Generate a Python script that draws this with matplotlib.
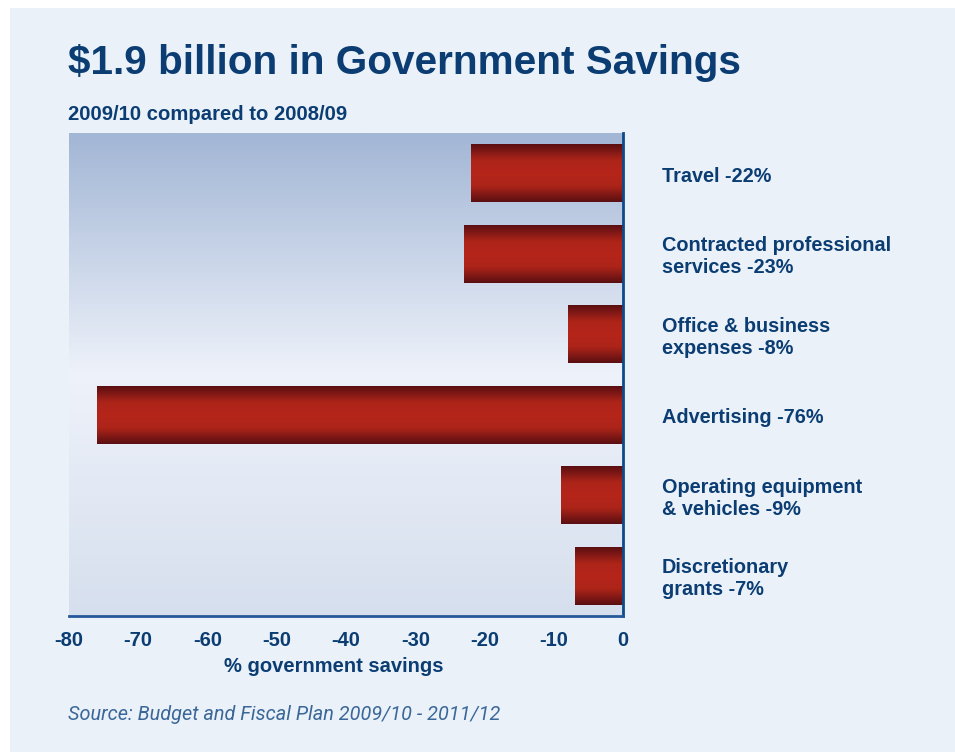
import numpy as np
import matplotlib
matplotlib.use("Agg")
from matplotlib import pyplot as plt
from matplotlib.colors import LinearSegmentedColormap
from matplotlib.patches import Rectangle
from matplotlib.transforms import ScaledTranslation

categories = [
    "Travel -22%",
    "Contracted professional\nservices -23%",
    "Office & business\nexpenses -8%",
    "Advertising -76%",
    "Operating equipment\n& vehicles -9%",
    "Discretionary\ngrants -7%",
]
savings = [-22, -23, -8, -76, -9, -7]
ticks = [-80, -70, -60, -50, -40, -30, -20, -10, 0]

navy = "#0b3d73"
panel = "#eaf1f9"

plt.rcParams["font.family"] = ["Liberation Sans", "DejaVu Sans"]

fig = plt.figure(figsize=(9.55, 7.52), dpi=100)
fig.patch.set_facecolor("white")
# light panel behind everything, leaving a thin white strip top and left
fig.patches.append(Rectangle((10 / 955, 0), 1, 1 - 8 / 752, transform=fig.transFigure,
                             facecolor=panel, edgecolor="none", zorder=-10))

ax = fig.add_axes([69 / 955, 1 - 616 / 752, 554 / 955, 483 / 752])
ax.set_facecolor("none")

y = np.arange(len(categories))
ax.set_xlim(-80, 0)
ax.set_ylim(len(categories) - 0.5, -0.5)

# plot area background: blue at the top, pale in the middle, slightly blue at the bottom
bg_cmap = LinearSegmentedColormap.from_list(
    "bg", [(0.0, "#a2b6d5"), (0.5, "#eef2fa"), (1.0, "#d6dfee")])
grad = np.linspace(0, 1, 256).reshape(-1, 1)
ax.imshow(grad, cmap=bg_cmap, aspect="auto", extent=[-80, 0, len(categories) - 0.5, -0.5],
          zorder=0)

# bars with a rounded, tube-like shading
bar_cmap = LinearSegmentedColormap.from_list(
    "bar", [(0.0, "#5a0f12"), (0.28, "#ad2419"), (0.5, "#b5251a"),
            (0.72, "#ad2419"), (1.0, "#5a0f12")])
bars = ax.barh(y, savings, height=0.72, color="none", edgecolor="none", zorder=2)
for b in bars:
    x0, y0 = b.get_x(), b.get_y()
    w, h = b.get_width(), b.get_height()
    im = ax.imshow(grad, cmap=bar_cmap, aspect="auto",
                   extent=[x0, x0 + w, y0 + h, y0], zorder=2)
    im.set_clip_path(b)

# category names to the right of the plot, nudged down a few pixels
label_tr = ax.get_yaxis_transform() + ScaledTranslation(0, -3 / 100, fig.dpi_scale_trans)
for yi, label in zip(y, categories):
    ax.text(1 + 39 / 554, yi, label, transform=label_tr,
            ha="left", va="center", fontsize=14.3, fontweight="bold", color=navy,
            linespacing=1.18)

for side in ["top", "left"]:
    ax.spines[side].set_visible(False)
ax.spines["bottom"].set_color("#24589a")
ax.spines["bottom"].set_linewidth(2)
ax.spines["right"].set_color("#0d4a8a")
ax.spines["right"].set_linewidth(2)

ax.set_yticks([])
ax.set_xticks(ticks)
ax.set_xticklabels([str(t) for t in ticks])
ax.tick_params(axis="x", length=0, pad=11, labelsize=14.5, labelcolor=navy)
for lbl in ax.get_xticklabels():
    lbl.set_fontweight("bold")
ax.set_xlabel("% government savings", fontsize=14.5, fontweight="bold", color=navy)
ax.xaxis.set_label_coords((334 - 69) / 554, -0.085)

fig.text(68 / 955, 1 - 74 / 752, "$1.9 billion in Government Savings", fontsize=29.2,
         fontweight="bold", color=navy, ha="left", va="baseline")
fig.text(68 / 955, 1 - 120 / 752, "2009/10 compared to 2008/09", fontsize=14.6,
         fontweight="bold", color=navy, ha="left", va="baseline")
fig.text(68 / 955, 1 - 720 / 752, "Source: Budget and Fiscal Plan 2009/10 - 2011/12",
         fontsize=14.3, style="italic", family=["Roboto", "Liberation Sans"],
         color="#3a6798", ha="left", va="baseline")

plt.savefig("out.png", dpi=100, facecolor=fig.get_facecolor())
